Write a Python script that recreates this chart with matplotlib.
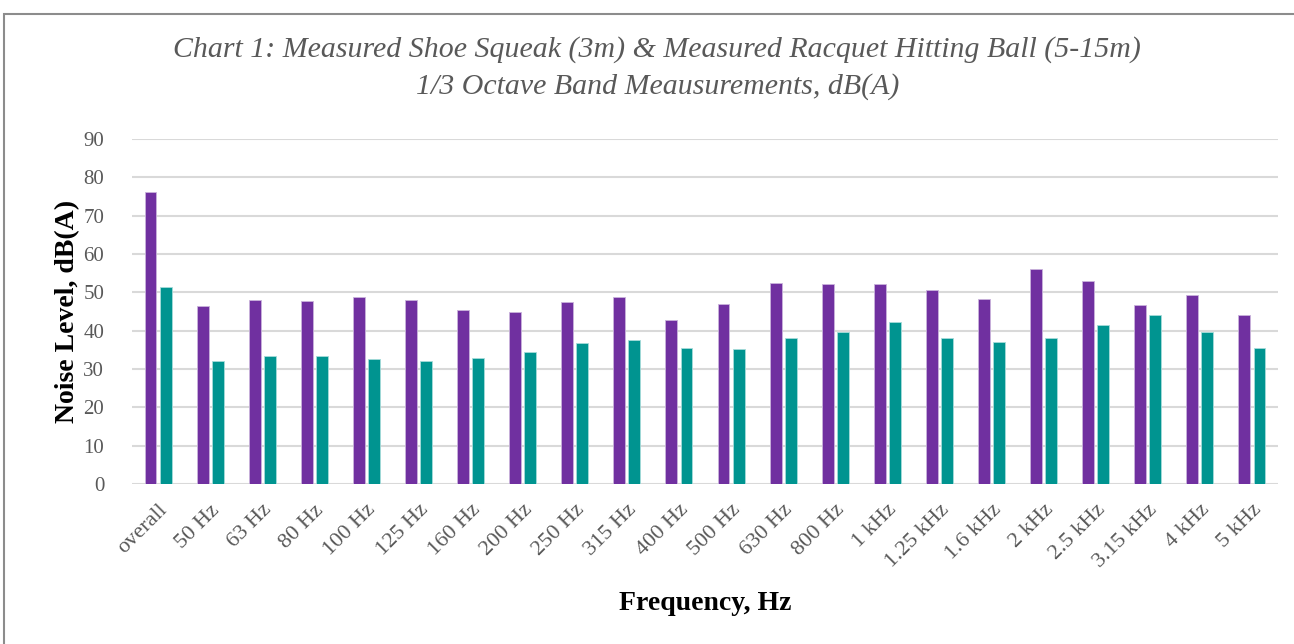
import numpy as np
import matplotlib
matplotlib.use("Agg")
import matplotlib.pyplot as plt
from matplotlib.patches import Rectangle

bands = ["overall", "50 Hz", "63 Hz", "80 Hz", "100 Hz", "125 Hz", "160 Hz",
         "200 Hz", "250 Hz", "315 Hz", "400 Hz", "500 Hz", "630 Hz", "800 Hz",
         "1 kHz", "1.25 kHz", "1.6 kHz", "2 kHz", "2.5 kHz", "3.15 kHz",
         "4 kHz", "5 kHz"]
shoe_squeak = [76.1, 46.5, 48.1, 47.8, 48.9, 48.1, 45.5,
               44.8, 47.6, 48.7, 42.9, 46.9, 52.4, 52.2,
               52.2, 50.6, 48.3, 56.1, 52.9, 46.6, 49.3, 44.2]
racquet_hit = [51.3, 32.2, 33.3, 33.4, 32.7, 32.1, 32.9,
               34.5, 36.7, 37.6, 35.4, 35.1, 38.0, 39.6,
               42.3, 38.0, 37.0, 38.2, 41.5, 44.0, 39.6, 35.6]
y_ticks = list(range(0, 100, 10))

purple = "#7030A0"
teal = "#009490"
grey_text = "#595959"

plt.rcParams["font.family"] = ["Liberation Serif", "DejaVu Serif"]

fig = plt.figure(figsize=(12.94, 6.44), dpi=100)
ax = fig.add_axes([132 / 1294, 1 - 484 / 644, 1146 / 1294, 345 / 644])

x = np.arange(len(bands))
w = 0.23
gap = 0.06
ax.bar(x - (w + gap) / 2, shoe_squeak, width=w, color=purple,
       edgecolor="#c9b3dc", linewidth=0.6, zorder=3)
ax.bar(x + (w + gap) / 2, racquet_hit, width=w, color=teal,
       edgecolor="#a6dcda", linewidth=0.6, zorder=3)

ax.set_xlim(-0.5, len(bands) - 0.5)
ax.set_ylim(0, 90)
ax.set_yticks(y_ticks)
ax.set_yticklabels([str(t) for t in y_ticks], fontsize=15, color=grey_text)
ax.set_xticks(x)
ax.set_xticklabels(bands, rotation=45, ha="right", va="top",
                   rotation_mode="anchor", fontsize=16, color=grey_text)
ax.tick_params(axis="both", length=0)
ax.tick_params(axis="y", pad=20)
ax.tick_params(axis="x", pad=12)
ax.grid(axis="y", color="#d9d9d9", linewidth=1.5, zorder=0)
for s in ax.spines.values():
    s.set_visible(False)

ax.set_ylabel("Noise Level, dB(A)", fontsize=20, fontweight="bold",
              color="black", labelpad=2)
ax.set_xlabel("Frequency, Hz", fontsize=20, fontweight="bold",
              color="black", labelpad=14)

fig.text(0.508, 1 - 50 / 644,
         "Chart 1: Measured Shoe Squeak (3m) & Measured Racquet Hitting Ball (5-15m)",
         ha="center", va="center", fontsize=21.5, style="italic", color=grey_text)
fig.text(0.508, 1 - 87 / 644, "1/3 Octave Band Meausurements, dB(A)",
         ha="center", va="center", fontsize=21.5, style="italic", color=grey_text)

fig.patches.append(Rectangle((4 / 1294, -0.05), 1.1, 1 - 14 / 644 + 0.05,
                             transform=fig.transFigure, fill=False,
                             edgecolor="#8c8c8c", linewidth=1.5))

fig.savefig("out.png", dpi=100)
